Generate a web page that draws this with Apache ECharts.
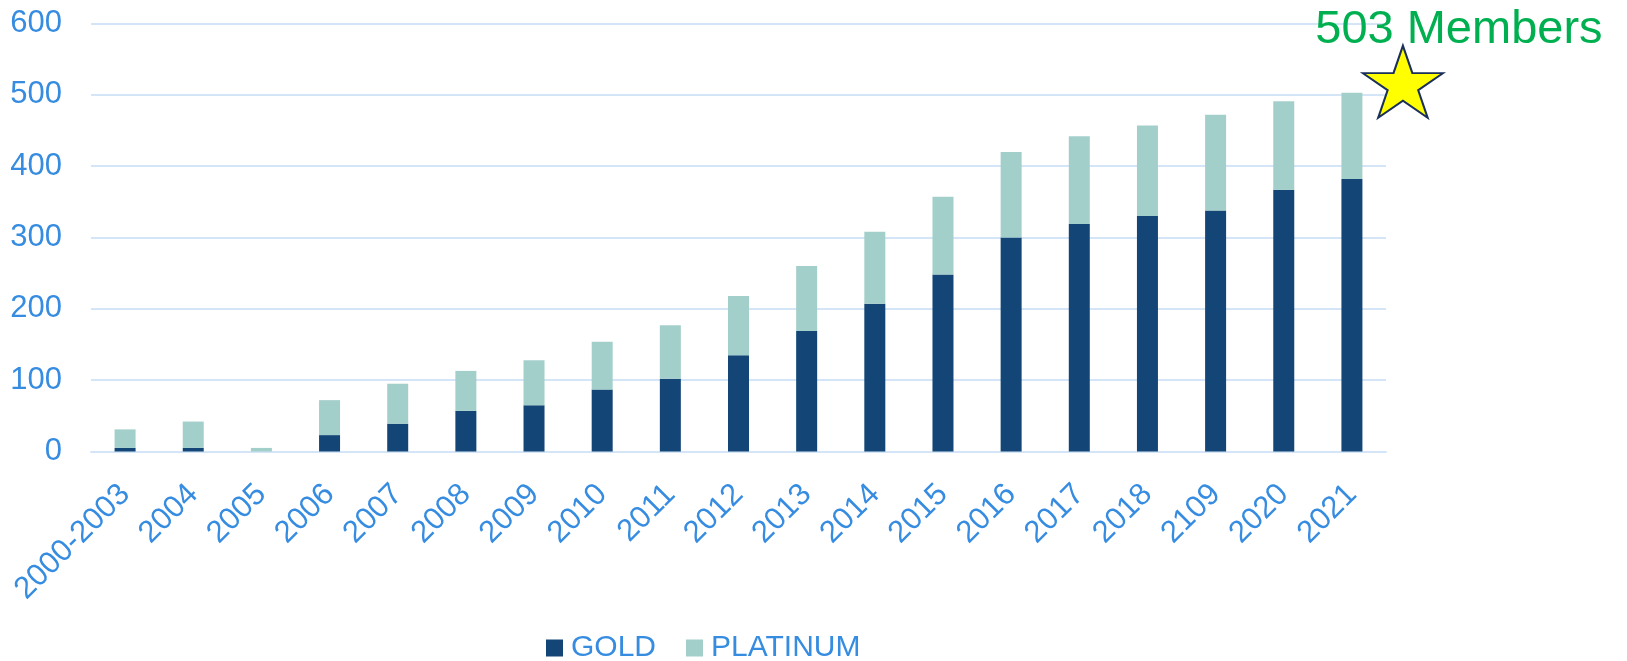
<!DOCTYPE html>
<html>
<head>
<meta charset="utf-8">
<script src="https://cdn.jsdelivr.net/npm/echarts@6/dist/echarts.min.js"></script>
<style>
  html, body { margin: 0; padding: 0; background: #fff; }
  #main { width: 1627px; height: 661px; }
</style>
</head>
<body>
<div id="main"></div>
<script>
const categories = ["2000-2003", "2004", "2005", "2006", "2007", "2008", "2009", "2010", "2011",
  "2012", "2013", "2014", "2015", "2016", "2017", "2018", "2109", "2020", "2021"];
const gold = [5, 5, 0, 23, 39, 57, 65, 87, 102, 135, 169, 207, 248, 300, 319, 330, 338, 367, 382];
const platinum = [26, 37, 5, 49, 56, 56, 63, 67, 75, 83, 91, 101, 109, 120, 123, 127, 134, 124, 121];
const yTicks = [0, 100, 200, 300, 400, 500, 600];

const FONT = "'Liberation Sans', Arial, sans-serif";
const BLUE_TEXT = '#368CE0';
const GRID_LINE = '#D3E5F6';

// star marker sits at the last stacked total
const lastIdx = categories.length - 1;
const lastTotal = gold[lastIdx] + platinum[lastIdx];
const STAR = 'path://M50,0 L61.2,34.5 L97.6,34.5 L68.2,55.9 L79.4,90.5 L50,69.1 L20.6,90.5 L31.8,55.9 L2.4,34.5 L38.8,34.5 Z';

const chart = echarts.init(document.getElementById('main'));

chart.setOption({
  animation: false,
  textStyle: { fontFamily: FONT },
  grid: { left: 91, right: 241, top: 23.5, bottom: 209.5, containLabel: false },
  legend: {
    left: 541,
    top: 628,
    itemWidth: 17,
    itemHeight: 17,
    itemGap: 30,
    icon: 'rect',
    textStyle: { color: BLUE_TEXT, fontSize: 30, fontFamily: FONT, padding: [0, 0, 0, 3] },
    data: ['GOLD', 'PLATINUM']
  },
  xAxis: {
    type: 'category',
    data: categories,
    axisLine: { lineStyle: { color: GRID_LINE, width: 2 } },
    axisTick: { show: false },
    axisLabel: {
      interval: 0,
      rotate: 45,
      margin: 38,
      color: BLUE_TEXT,
      fontSize: 31,
      fontFamily: FONT
    }
  },
  yAxis: {
    type: 'value',
    min: yTicks[0],
    max: yTicks[yTicks.length - 1],
    interval: 100,
    axisLine: { show: false },
    axisTick: { show: false },
    axisLabel: { color: BLUE_TEXT, fontSize: 31, fontFamily: FONT, margin: 29 },
    splitLine: { lineStyle: { color: GRID_LINE, width: 2 } }
  },
  series: [
    {
      name: 'GOLD',
      type: 'bar',
      stack: 'members',
      barWidth: 21,
      itemStyle: { color: '#134676' },
      data: gold
    },
    {
      name: 'PLATINUM',
      type: 'bar',
      stack: 'members',
      barWidth: 21,
      itemStyle: { color: '#A3CFCA' },
      data: platinum,
      markPoint: {
        silent: true,
        data: [{
          coord: [categories[lastIdx], lastTotal],
          symbol: STAR,
          symbolSize: [80, 72],
          symbolOffset: [51, -11],
          itemStyle: { color: '#FFFF00', borderColor: '#1A2F5A', borderWidth: 2 },
          label: {
            show: true,
            position: 'inside',
            offset: [56, -52],
            formatter: lastTotal + ' Members',
            color: '#00B050',
            fontSize: 47,
            fontFamily: FONT
          }
        }]
      }
    }
  ]
});

window.addEventListener('resize', () => { chart.resize(); });
</script>
</body>
</html>
